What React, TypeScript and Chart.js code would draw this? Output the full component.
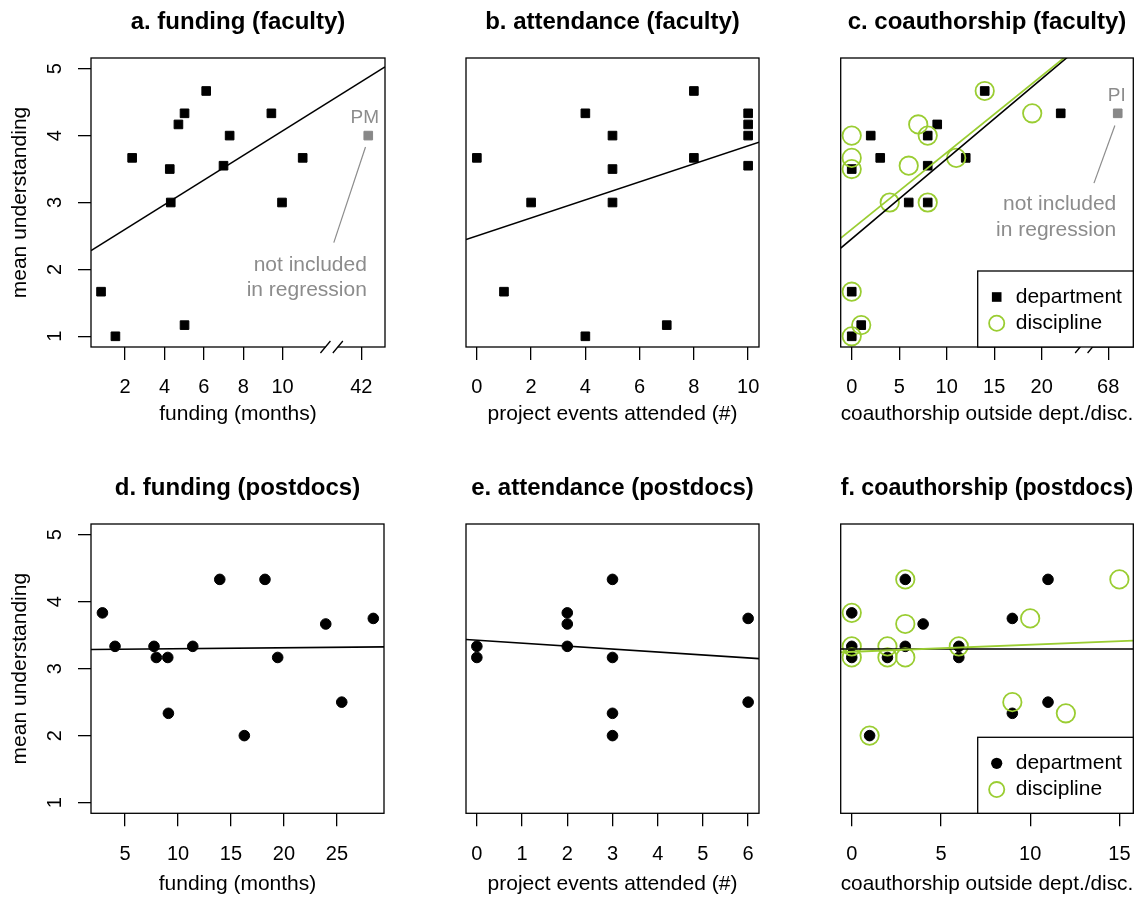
import React, { useEffect, useRef } from "react";
import { Chart, registerables } from "chart.js";
Chart.register(...registerables);

const FONT = "'Liberation Sans', Arial, Helvetica, sans-serif";
const BLACK = "#000000";
const GREEN = "#9acd32";
const GRAY = "#8c8c8c";

// ---------- shared ----------
const yTicks = [1, 2, 3, 4, 5];
const yTickLabels = ["1", "2", "3", "4", "5"];
const yTitle = "mean understanding";
const legendLabels = ["department", "discipline"];
const noteLines = ["not included", "in regression"];

// ---------- a. funding (faculty) ----------
const aTitle = "a. funding (faculty)";
const aXTitle = "funding (months)";
const aFunding = [0.78, 1.51, 2.36, 4.27, 4.32, 4.71, 5.02, 5.02, 6.12, 7.0, 7.31, 9.43, 9.97, 11.02];
const aUnderstanding = [1.667, 1, 3.667, 3.5, 3, 4.167, 4.333, 1.167, 4.667, 3.55, 4, 4.333, 3, 3.667];
// outlier (42 months), drawn past the axis break
const aOutlierX = [14.35];
const aOutlierY = [4];
const aOutlierName = "PM";
const aXTicks = [2, 4, 6, 8, 10, 14];
const aXTickLabels = ["2", "4", "6", "8", "10", "42"];
const aFit = [2.23, 0.184];
const aBreak = 12.49;
const aNameAt = [14.17, 4.26];
const aPointer = [14.21, 3.83, 12.6, 2.4];
const aNoteX = 14.28;
const aNoteY = [2.07, 1.69];

// ---------- b. attendance (faculty) ----------
const bTitle = "b. attendance (faculty)";
const bXTitle = "project events attended (#)";
const bEvents = [0, 1, 2, 4, 4, 5, 5, 5, 7, 8, 8, 10, 10, 10, 10];
const bUnderstanding = [3.667, 1.667, 3, 4.333, 1, 4, 3.5, 3, 1.167, 4.667, 3.667, 4.333, 4.167, 4, 3.55];
const bXTicks = [0, 2, 4, 6, 8, 10];
const bXTickLabels = ["0", "2", "4", "6", "8", "10"];
const bFit = [2.5, 0.1347];

// ---------- c. coauthorship (faculty) ----------
const cTitle = "c. coauthorship (faculty)";
const cXTitle = "coauthorship outside dept./disc.";
const cDeptX = [0, 0, 0, 1, 2, 3, 6, 8, 8, 8, 9, 12, 14, 22];
const cDeptY = [3.5, 1.667, 1, 1.167, 4, 3.667, 3, 4, 3.55, 3, 4.167, 3.667, 4.667, 4.333];
const cDiscX = [0, 0, 0, 0, 0, 1, 4, 6, 7, 8, 8, 11, 14, 19];
const cDiscY = [4, 3.667, 3.5, 1.667, 1, 1.167, 3, 3.55, 4.167, 4, 3, 3.667, 4.667, 4.333];
// outlier (68 coauthorships), drawn past the axis break
const cOutlierX = [28];
const cOutlierY = [4.333];
const cOutlierName = "PI";
const cXTicks = [0, 5, 10, 15, 20, 27];
const cXTickLabels = ["0", "5", "10", "15", "20", "68"];
const cDeptFit = [2.457, 0.1196];
const cDiscFit = [2.6, 0.1146];
const cBreak = 24.7;
const cNameAt = [27.9, 4.59];
const cPointer = [27.7, 4.15, 25.5, 3.29];
const cNoteX = 27.85;
const cNoteY = [2.97, 2.59];

// ---------- d. funding (postdocs) ----------
const dTitle = "d. funding (postdocs)";
const dXTitle = "funding (months)";
const dFunding = [2.86, 4.05, 7.73, 7.95, 9.03, 9.09, 11.39, 13.94, 16.26, 18.21, 19.41, 23.95, 25.46, 28.44];
const dUnderstanding = [3.833, 3.333, 3.333, 3.167, 3.167, 2.333, 3.333, 4.333, 2, 4.333, 3.167, 3.667, 2.5, 3.75];
const dXTicks = [5, 10, 15, 20, 25];
const dXTickLabels = ["5", "10", "15", "20", "25"];
const dFit = [3.283, 0.00145];

// ---------- e. attendance (postdocs) ----------
const eTitle = "e. attendance (postdocs)";
const eXTitle = "project events attended (#)";
const eEvents = [0, 0, 2, 2, 2, 3, 3, 3, 3, 6, 6];
const eUnderstanding = [3.333, 3.167, 3.833, 3.667, 3.333, 4.333, 3.167, 2.333, 2, 3.75, 2.5];
const eXTicks = [0, 1, 2, 3, 4, 5, 6];
const eXTickLabels = ["0", "1", "2", "3", "4", "5", "6"];
const eFit = [3.424, -0.044];

// ---------- f. coauthorship (postdocs) ----------
const fTitle = "f. coauthorship (postdocs)";
const fXTitle = "coauthorship outside dept./disc.";
const fDeptX = [0, 0, 0, 1, 2, 3, 3, 4, 6, 6, 9, 9, 11, 11];
const fDeptY = [3.833, 3.333, 3.167, 2, 3.167, 4.333, 3.333, 3.667, 3.333, 3.167, 3.75, 2.333, 4.333, 2.5];
const fDiscX = [0, 0, 0, 1, 2, 2, 3, 3, 3, 6, 9, 10, 12, 15];
const fDiscY = [3.833, 3.333, 3.167, 2, 3.333, 3.167, 4.333, 3.667, 3.167, 3.333, 2.5, 3.75, 2.333, 4.333];
const fXTicks = [0, 5, 10, 15];
const fXTickLabels = ["0", "5", "10", "15"];
const fDeptFit = [3.294, 0];
const fDiscFit = [3.2515, 0.01055];

// ---------- helpers ----------
const pts = (xs: number[], ys: number[]) => xs.map((x, i) => ({ x, y: ys[i] }));

function squares(label: string, xs: number[], ys: number[], color: string, order: number) {
  return {
    label, data: pts(xs, ys), pointStyle: "rect", pointRadius: 6.1, pointBorderWidth: 1,
    pointBackgroundColor: color, pointBorderColor: color, showLine: false, order,
  };
}
function dots(label: string, xs: number[], ys: number[], order: number) {
  return {
    label, data: pts(xs, ys), pointStyle: "circle", pointRadius: 5.3, pointBorderWidth: 1,
    pointBackgroundColor: BLACK, pointBorderColor: BLACK, showLine: false, order,
  };
}
function rings(label: string, xs: number[], ys: number[], order: number) {
  return {
    label, data: pts(xs, ys), pointStyle: "circle", pointRadius: 9.2, pointBorderWidth: 1.8,
    pointBackgroundColor: "rgba(0,0,0,0)", pointBorderColor: GREEN, showLine: false, order,
  };
}
function fitLine(coef: number[], xMin: number, xMax: number, color: string, width: number, order: number) {
  return {
    label: "fit",
    data: [xMin, xMax].map((x) => ({ x, y: coef[0] + coef[1] * x })),
    showLine: true, pointRadius: 0, borderColor: color, borderWidth: width, tension: 0, order,
  };
}

type Panel = {
  title: string; xTitle: string;
  left: number; top: number; width: number; height: number;
  padLeft: number; padRight: number; showY: boolean;
  titlePad: [number, number]; xHeight: number; xTickPad: number; xTitlePad: number;
  xMin: number; xMax: number; xTicks: number[]; xTickLabels: string[];
  datasets: any[]; decor: any;
};

const ROW1 = { top: 0, height: 440, titlePad: [7.5, 21.7] as [number, number], xHeight: 93, xTickPad: 15.7, xTitlePad: 13.4 };
const ROW2 = { top: 450, height: 448, titlePad: [24.2, 21] as [number, number], xHeight: 84.7, xTickPad: 16, xTitlePad: 1.2 };
const COL1 = { left: 0, width: 400, padLeft: 0, showY: true };
const COL2 = { left: 400, width: 380, padLeft: 66, padRight: 21, showY: false };
const COL3 = { left: 780, width: 360, padLeft: 60.7, padRight: 6.7, showY: false };

const panels: Panel[] = [
  {
    ...ROW1, ...COL1, padRight: 15, title: aTitle, xTitle: aXTitle,
    xMin: 0.27, xMax: 15.2, xTicks: aXTicks, xTickLabels: aXTickLabels,
    datasets: [
      fitLine(aFit, 0.27, 15.2, BLACK, 1.6, 1),
      squares("faculty", aFunding, aUnderstanding, BLACK, 3),
      squares(aOutlierName, aOutlierX, aOutlierY, "#888888", 3),
    ],
    decor: { breakAt: aBreak, name: aOutlierName, nameAt: aNameAt, pointer: aPointer, noteX: aNoteX, noteY: aNoteY },
  },
  {
    ...ROW1, ...COL2, title: bTitle, xTitle: bXTitle,
    xMin: -0.4, xMax: 10.4, xTicks: bXTicks, xTickLabels: bXTickLabels,
    datasets: [
      fitLine(bFit, -0.4, 10.4, BLACK, 1.6, 1),
      squares("faculty", bEvents, bUnderstanding, BLACK, 3),
    ],
    decor: {},
  },
  {
    ...ROW1, ...COL3, title: cTitle, xTitle: cXTitle,
    xMin: -1.16, xMax: 29.64, xTicks: cXTicks, xTickLabels: cXTickLabels,
    datasets: [
      fitLine(cDiscFit, -1.16, 29.64, GREEN, 1.8, 1),
      fitLine(cDeptFit, -1.16, 29.64, BLACK, 1.6, 2),
      rings(legendLabels[1], cDiscX, cDiscY, 3),
      squares(legendLabels[0], cDeptX, cDeptY, BLACK, 4),
      squares(cOutlierName, cOutlierX, cOutlierY, "#888888", 4),
    ],
    decor: {
      breakAt: cBreak, name: cOutlierName, nameAt: cNameAt, pointer: cPointer, noteX: cNoteX, noteY: cNoteY,
      legend: ["square", "ring"],
    },
  },
  {
    ...ROW2, ...COL1, padRight: 16, title: dTitle, xTitle: dXTitle,
    xMin: 1.78, xMax: 29.45, xTicks: dXTicks, xTickLabels: dXTickLabels,
    datasets: [
      fitLine(dFit, 1.78, 29.45, BLACK, 1.6, 1),
      dots("postdocs", dFunding, dUnderstanding, 3),
    ],
    decor: {},
  },
  {
    ...ROW2, ...COL2, title: eTitle, xTitle: eXTitle,
    xMin: -0.24, xMax: 6.24, xTicks: eXTicks, xTickLabels: eXTickLabels,
    datasets: [
      fitLine(eFit, -0.24, 6.24, BLACK, 1.6, 1),
      dots("postdocs", eEvents, eUnderstanding, 3),
    ],
    decor: {},
  },
  {
    ...ROW2, ...COL3, title: fTitle, xTitle: fXTitle,
    xMin: -0.62, xMax: 15.78, xTicks: fXTicks, xTickLabels: fXTickLabels,
    datasets: [
      fitLine(fDiscFit, -0.62, 15.78, GREEN, 1.8, 1),
      fitLine(fDeptFit, -0.62, 15.78, BLACK, 1.6, 2),
      rings(legendLabels[1], fDiscX, fDiscY, 3),
      dots(legendLabels[0], fDeptX, fDeptY, 4),
    ],
    decor: { legend: ["dot", "ring"] },
  },
];

// ---------- R-style decorations plugin ----------
const rDecor = {
  id: "rdecor",
  afterDatasetsDraw(chart: any, _args: any, opts: any) {
    const { ctx, chartArea: ca, scales } = chart;
    const xs = scales.x;
    const ys = scales.y;
    ctx.save();
    ctx.strokeStyle = BLACK;
    ctx.lineWidth = 1.3;
    ctx.strokeRect(ca.left, ca.top, ca.right - ca.left, ca.bottom - ca.top);

    if (opts.breakAt != null) {
      const bx = xs.getPixelForValue(opts.breakAt);
      const by = ca.bottom;
      ctx.fillStyle = "#ffffff";
      ctx.fillRect(bx - 6.2, by - 1.6, 12.4, 3.2);
      ctx.beginPath();
      for (const c of [bx - 6.2, bx + 6.2]) {
        ctx.moveTo(c - 5, by + 6);
        ctx.lineTo(c + 5, by - 6);
      }
      ctx.strokeStyle = BLACK;
      ctx.lineWidth = 1.3;
      ctx.stroke();
    }

    if (opts.pointer) {
      const p = opts.pointer;
      ctx.beginPath();
      ctx.moveTo(xs.getPixelForValue(p[0]), ys.getPixelForValue(p[1]));
      ctx.lineTo(xs.getPixelForValue(p[2]), ys.getPixelForValue(p[3]));
      ctx.strokeStyle = GRAY;
      ctx.lineWidth = 1.2;
      ctx.stroke();
    }
    ctx.fillStyle = GRAY;
    ctx.textBaseline = "middle";
    if (opts.name) {
      ctx.font = `19px ${FONT}`;
      ctx.textAlign = "center";
      ctx.fillText(opts.name, xs.getPixelForValue(opts.nameAt[0]), ys.getPixelForValue(opts.nameAt[1]));
    }
    if (opts.noteY) {
      ctx.font = `21px ${FONT}`;
      ctx.textAlign = "right";
      noteLines.forEach((t, i) => {
        ctx.fillText(t, xs.getPixelForValue(opts.noteX), ys.getPixelForValue(opts.noteY[i]));
      });
    }

    if (opts.legend) {
      const w = 155.6, h = 76;
      const lx = ca.right - w, ly = ca.bottom - h;
      ctx.fillStyle = "#ffffff";
      ctx.fillRect(lx, ly, w, h);
      ctx.strokeStyle = BLACK;
      ctx.lineWidth = 1.3;
      ctx.strokeRect(lx, ly, w, h);
      const rows = [26, 52.3];
      opts.legend.forEach((kind: string, i: number) => {
        const sx = lx + 19, sy = ly + rows[i];
        if (kind === "square") {
          ctx.fillStyle = BLACK;
          ctx.fillRect(sx - 4.8, sy - 4.8, 9.6, 9.6);
        } else if (kind === "dot") {
          ctx.beginPath();
          ctx.arc(sx, sy, 5.6, 0, Math.PI * 2);
          ctx.fillStyle = BLACK;
          ctx.fill();
        } else {
          ctx.beginPath();
          ctx.arc(sx, sy, 7.6, 0, Math.PI * 2);
          ctx.strokeStyle = GREEN;
          ctx.lineWidth = 1.8;
          ctx.stroke();
        }
        ctx.fillStyle = BLACK;
        ctx.font = `21px ${FONT}`;
        ctx.textAlign = "left";
        ctx.textBaseline = "middle";
        ctx.fillText(legendLabels[i], lx + 38, sy);
      });
    }
    ctx.restore();
  },
};

function noEdgePadding(s: any) {
  s.paddingLeft = 0;
  s.paddingRight = 0;
  s.paddingTop = 0;
  s.paddingBottom = 0;
}

function makeConfig(p: Panel): any {
  const tickGrid = {
    display: true, drawOnChartArea: false, drawTicks: true, tickLength: 13,
    color: BLACK, lineWidth: 1.3,
  };
  return {
    type: "scatter",
    data: { datasets: p.datasets },
    plugins: [rDecor],
    options: {
      animation: false,
      responsive: false,
      maintainAspectRatio: false,
      events: [],
      layout: { autoPadding: false, padding: { left: p.padLeft, right: p.padRight, top: 0, bottom: 0 } },
      plugins: {
        legend: { display: false },
        tooltip: { enabled: false },
        title: {
          display: true, text: p.title, fullSize: false, align: "center", color: BLACK,
          font: { family: FONT, size: 24, weight: "bold", lineHeight: 1.2 },
          padding: { top: p.titlePad[0], bottom: p.titlePad[1] },
        },
        rdecor: p.decor,
      },
      scales: {
        x: {
          type: "linear", position: "bottom", min: p.xMin, max: p.xMax,
          afterBuildTicks: (s: any) => { s.ticks = p.xTicks.map((v) => ({ value: v })); },
          afterFit: (s: any) => { s.height = p.xHeight; noEdgePadding(s); },
          grid: tickGrid,
          border: { display: false },
          ticks: {
            autoSkip: false, maxRotation: 0, minRotation: 0, padding: p.xTickPad, color: BLACK,
            font: { family: FONT, size: 20, lineHeight: 1.2 },
            callback: (_v: any, i: number) => p.xTickLabels[i],
          },
          title: {
            display: true, text: p.xTitle, color: BLACK,
            font: { family: FONT, size: 21, lineHeight: 1.2 },
            padding: { top: 0, bottom: p.xTitlePad },
          },
        },
        y: {
          type: "linear", position: "left", min: 0.84, max: 5.16, display: p.showY,
          afterBuildTicks: (s: any) => { s.ticks = yTicks.map((v) => ({ value: v })); },
          afterFit: (s: any) => { if (p.showY) s.width = 91; noEdgePadding(s); },
          grid: tickGrid,
          border: { display: false },
          ticks: {
            autoSkip: false, minRotation: 90, maxRotation: 90, crossAlign: "center", padding: 17,
            color: BLACK, font: { family: FONT, size: 20, lineHeight: 1.2 },
            callback: (_v: any, i: number) => yTickLabels[i],
          },
          title: {
            display: true, text: yTitle, color: BLACK,
            font: { family: FONT, size: 21, lineHeight: 1.2 },
            padding: { top: 7.6, bottom: 0 },
          },
        },
      },
    },
  };
}

function PanelChart({ p }: { p: Panel }) {
  const ref = useRef<HTMLCanvasElement | null>(null);
  useEffect(() => {
    if (!ref.current) return;
    const chart = new Chart(ref.current, makeConfig(p));
    return () => chart.destroy();
  }, [p]);
  return (
    <canvas
      ref={ref}
      width={p.width}
      height={p.height}
      style={{ position: "absolute", left: p.left, top: p.top, width: p.width, height: p.height }}
    />
  );
}

export default function App() {
  return (
    <div
      style={{
        position: "absolute", left: 0, top: 0, width: 1140, height: 898,
        overflow: "hidden", background: "#ffffff",
      }}
    >
      {panels.map((p, i) => (
        <PanelChart key={i} p={p} />
      ))}
    </div>
  );
}
